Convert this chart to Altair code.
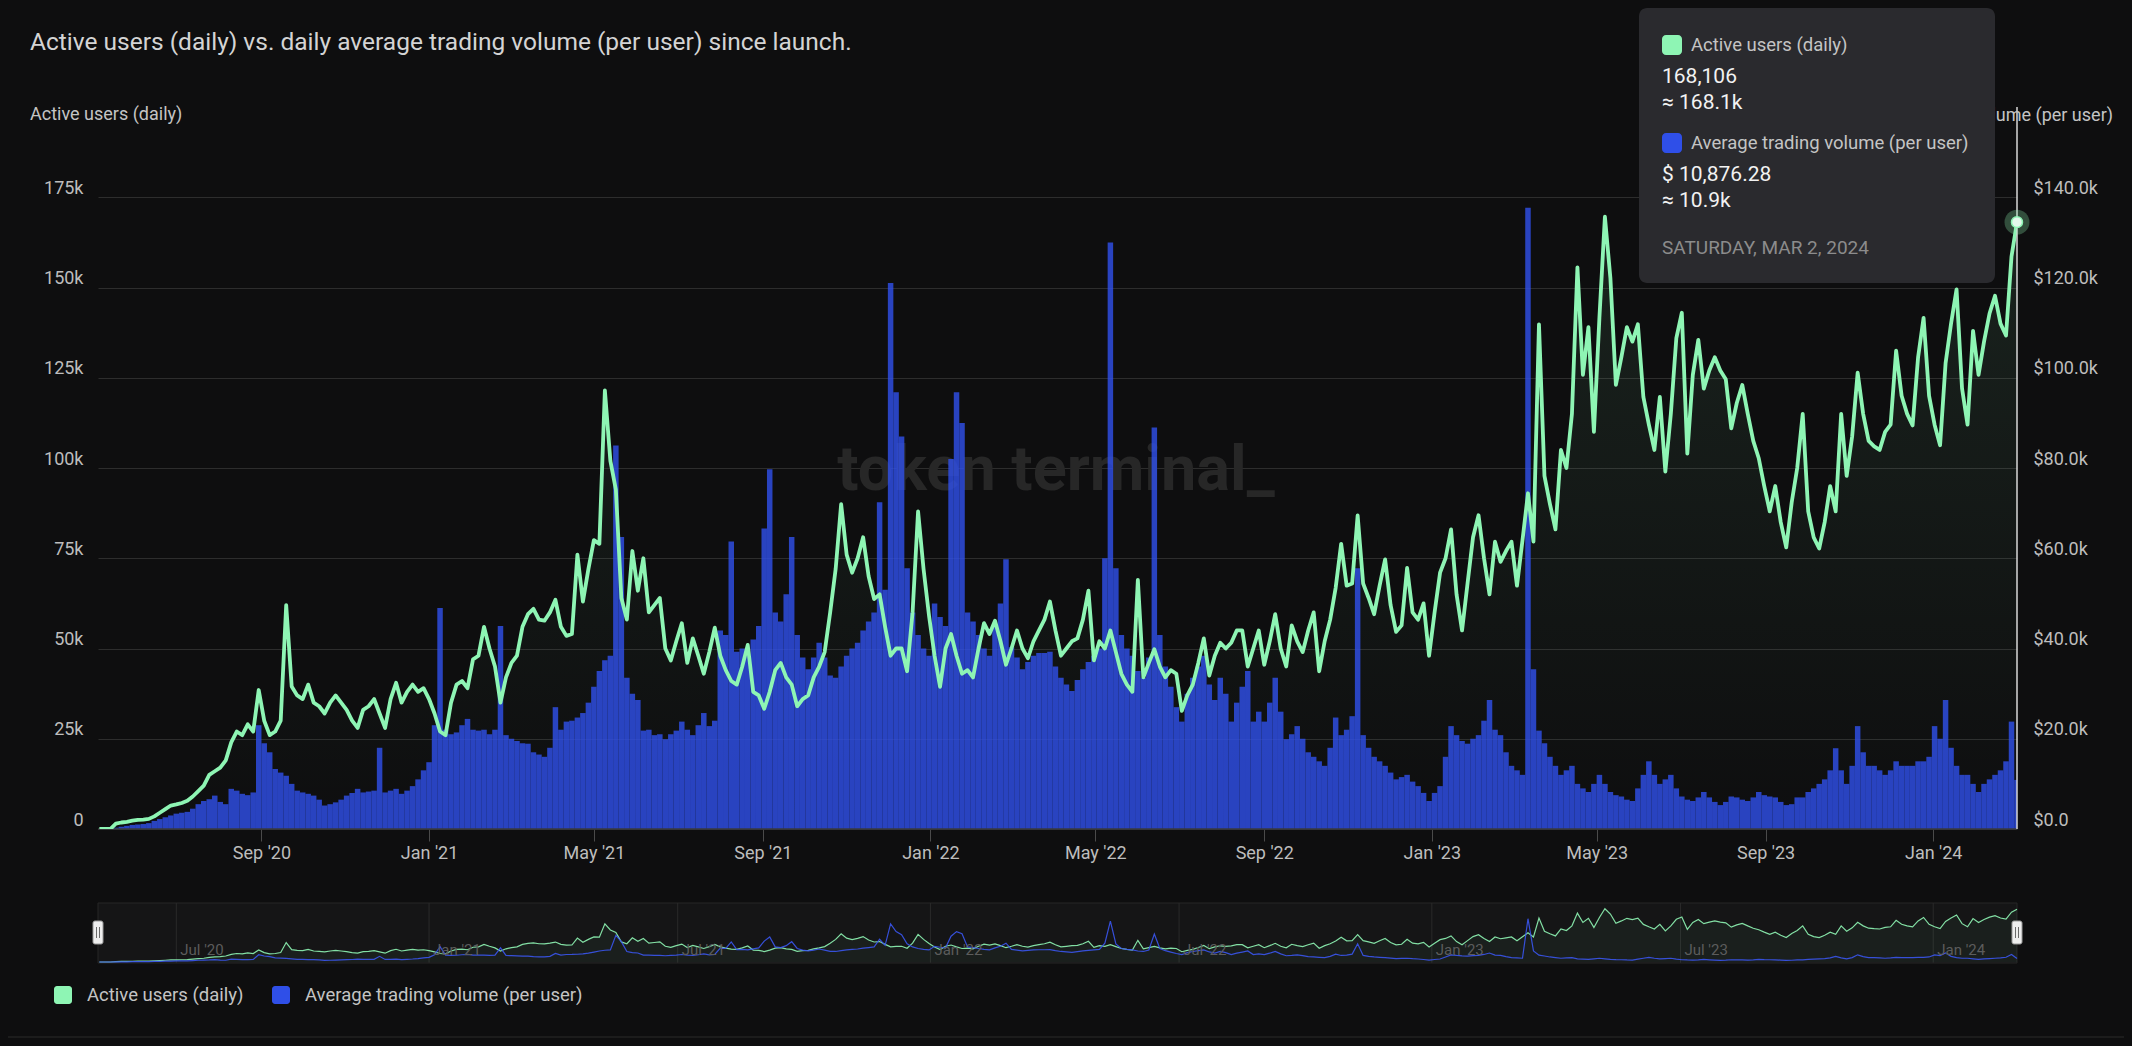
import altair as alt
import pandas as pd
import jinja2

# ---------------- data (4-day samples) ----------------
START_DATE = "2020-05-06"
STEP_DAYS = 4

# Active users (daily), thousands
users_k = [
    0, 0, 0, 1.5, 1.8, 2.0, 2.3, 2.5, 2.6, 2.8,
    3.5, 4.5, 5.5, 6.5, 6.8, 7.2, 7.8, 9, 10.5, 12,
    15, 16, 17, 19, 24, 27, 26, 29, 27, 38.5,
    30, 26, 27, 30, 62, 39.5, 37, 36, 40, 35,
    34, 32, 35, 37, 35, 33, 30, 28, 33, 34,
    36, 32, 28, 36, 40.5, 35, 38, 40, 38, 39,
    36, 32, 27, 26, 35, 40, 41, 39, 47, 48,
    56, 50, 45, 35, 42, 46, 48, 56, 59.5, 61,
    58, 57.7, 60, 63.5, 56, 53.5, 54, 76, 63, 72,
    80, 79, 121.5, 102, 94, 64, 58, 77, 66, 75,
    60, 62, 64, 50, 46.7, 52, 57, 46, 52.8, 48,
    43, 49, 55.8, 48, 44, 41, 40, 45, 51, 38,
    37, 33.3, 38, 44, 46, 42, 40, 34, 36, 37,
    42, 45, 49, 60, 72, 90, 76, 71, 75, 80.8,
    70, 63.7, 65, 56, 48, 50, 50, 43.7, 60, 88,
    72, 59, 48, 39.4, 50, 54, 48, 43, 44, 42,
    50, 57, 54, 57.7, 52, 45.5, 50, 55, 50, 47.3,
    52, 55, 58, 63, 55, 48, 50, 52, 52.8, 58,
    66, 46.7, 52, 50, 55, 49, 43, 40, 38, 69,
    42, 46, 49.8, 45, 42, 44, 43, 32.7, 37, 40,
    46, 52.8, 42.5, 48, 51.6, 50, 51.6, 55, 55, 45,
    50, 55, 45.5, 52, 59.5, 50, 45, 56.4, 52, 49,
    55, 60, 43.7, 52, 58, 66.8, 79, 67.4, 68, 86.9,
    68, 64, 59.5, 67.4, 74.7, 62, 54.6, 56.4, 72.3, 60,
    58, 62.5, 48, 60, 71, 75, 83, 65, 55, 68,
    80.8, 86.9, 75, 65, 79.6, 74, 77, 79.6, 67.4, 80,
    93, 79.6, 139.8, 97.8, 90, 83, 105, 100, 115, 155.6,
    125.8, 139, 110, 141.6, 169.6, 152.6, 123, 130.7, 139, 135,
    139.8, 119.7, 112, 105, 119.7, 99, 115, 136, 143, 104,
    125.8, 135.5, 122, 127, 130.7, 127, 124.6, 111, 118, 123,
    115, 107.5, 102.7, 95, 88, 95, 85, 78, 90.5, 100,
    115, 88, 80.8, 77.7, 85, 95, 88, 115, 97.8, 108.8,
    126.4, 115, 107.5, 106, 105, 110, 112, 132.5, 120, 115,
    111.8, 130.7, 141.6, 120, 112, 106.3, 129, 140, 149.5, 122,
    112, 138, 125.8, 135, 142.8, 147.7, 140, 136.7, 158.6, 168.106,
]

# Average trading volume (per user), thousands of USD
volume_k = [
    0, 0, 0, 0.3, 0.5, 0.7, 0.9, 1.0, 1.1, 1.3,
    1.8, 2.2, 2.6, 3.0, 3.4, 3.6, 3.8, 4.5, 5.5, 6.2,
    6.6, 7.4, 6.0, 5.5, 8.9, 8.5, 7.8, 7.5, 8.1, 23,
    19, 17, 13.3, 12.5, 11.8, 10, 8.5, 8.1, 7.8, 7.4,
    6.5, 5.2, 5.5, 5.9, 6.5, 7.4, 8, 8.9, 8.1, 8.3,
    8.5, 18, 8.1, 8.5, 8.9, 7.8, 8.5, 9.5, 11, 13,
    14.8, 23, 49, 22, 21, 21.4, 23, 24.4, 22, 21.8,
    22, 21, 22, 45, 20.8, 20, 19.5, 19, 18.9, 17,
    16.5, 16, 18, 27, 22, 23.8, 24, 24.7, 25.7, 28,
    31.5, 35, 37.4, 38.4, 85, 64.7, 33.5, 30, 28.6, 21.8,
    22, 20.8, 21, 19.9, 21, 21.8, 23.8, 22, 20.8, 23,
    25.7, 22.8, 24, 44, 43, 63.7, 39.3, 40, 38.4, 42,
    45, 66.6, 79.7, 48, 46, 52, 64.7, 43, 38, 35.4,
    38, 41.3, 38, 34, 33.5, 36, 38.4, 40, 41.3, 44,
    46, 48, 72.4, 53, 121, 96.8, 87, 57.8, 48, 43,
    40, 38.4, 50, 47, 45, 82, 96.8, 90, 48, 46,
    43, 40, 38.4, 45, 50, 59.8, 40.3, 38, 35.4, 37,
    38.4, 39, 39, 39.3, 36, 33.5, 32, 30.6, 33, 35.4,
    37, 38.4, 40, 60, 130, 57.8, 43, 40, 38.4, 35,
    33.5, 38, 89, 43, 36, 31.5, 27, 23.8, 30, 33.5,
    36, 38.4, 32, 28.6, 33.5, 30, 23.8, 28, 31.5, 35,
    23.8, 26, 23.8, 28, 33.5, 26, 19.9, 21, 22.8, 20,
    17, 16, 15, 14, 18, 24.7, 20.8, 22, 25, 57.8,
    20.8, 18, 16, 15, 14, 12.5, 11, 11.5, 12, 10.5,
    9.5, 8, 6.2, 8, 9.5, 16, 22.8, 20.8, 19.5, 18.9,
    20, 20.8, 24, 28.6, 22, 20.8, 17, 14, 13, 12,
    137.7, 35.4, 21.8, 19, 16, 14, 12, 13, 14, 10,
    9, 8.2, 10, 12, 10, 8.2, 7.5, 7.2, 6.5, 6.2,
    9, 12, 15, 12, 10, 11, 12, 9, 7.2, 6.5,
    6.2, 7, 8.2, 7, 6, 5.3, 6, 7.2, 7, 6.5,
    6.2, 7, 8.2, 7.5, 7.2, 7, 6, 5.3, 5.5, 7,
    7, 8.2, 9, 10, 11, 13, 17.9, 13, 10, 14,
    22.8, 17, 14, 14, 13, 12, 13, 15, 14, 14,
    14, 15, 15, 16, 22.8, 20, 28.6, 18, 14, 12,
    12, 10, 8.2, 10, 11, 12, 13, 15, 23.8, 10.87628,
]

x_tick_dates = ["2020-09-01", "2021-01-01", "2021-05-01", "2021-09-01", "2022-01-01",
                "2022-05-01", "2022-09-01", "2023-01-01", "2023-05-01", "2023-09-01",
                "2024-01-01"]
nav_tick_dates = ["2020-07-01", "2021-01-01", "2021-07-01", "2022-01-01",
                  "2022-07-01", "2023-01-01", "2023-07-01", "2024-01-01"]
nav_tick_labels = ["Jul '20", "Jan '21", "Jul '21", "Jan '22", "Jul '22",
                   "Jan '23", "Jul '23", "Jan '24"]
users_ticks = [0, 25000, 50000, 75000, 100000, 125000, 150000, 175000]
volume_ticks = [0, 20000, 40000, 60000, 80000, 100000, 120000, 140000]

SERIES_USERS = "Active users (daily)"
SERIES_VOL = "Average trading volume (per user)"
TITLE = "Active users (daily) vs. daily average trading volume (per user) since launch."

# ---------------- style ----------------
BG = "#0e0e0f"
GREEN = "#8ef5b4"
BLUE = "#2f4fe8"
LABEL = "#bdbdbd"
SOFT = "#c4c4c4"
FONT = "Roboto"
W, H = 1919, 722

dates = pd.date_range(START_DATE, periods=len(users_k), freq=f"{STEP_DAYS}D")
df = pd.DataFrame({
    "date": dates.strftime("%Y-%m-%d"),
    "start": (dates - pd.Timedelta(days=STEP_DAYS / 2)).strftime("%Y-%m-%d"),
    "end": (dates + pd.Timedelta(days=STEP_DAYS / 2)).strftime("%Y-%m-%d"),
    "users": [round(v * 1000, 2) for v in users_k],
    "volume": [round(v * 1000, 2) for v in volume_k],
})
last = df.iloc[[-1]].reset_index(drop=True)
last_date = pd.Timestamp(dates[-1])


def dt(s):
    t = pd.Timestamp(s)
    return alt.DateTime(year=t.year, month=t.month, date=t.day, utc=True)


x_scale = alt.Scale(type="utc", domain=[dt("2020-05-05"), dt(str(last_date.date()))])
x_axis = alt.Axis(values=[dt(s) for s in x_tick_dates],
                  labelExpr="utcFormat(datum.value, \"%b '%y\")",
                  labelColor=LABEL, labelFontSize=18, labelFont=FONT,
                  tickColor="#4a4a4a", tickSize=12, tickWidth=1,
                  domain=False, grid=False, labelPadding=3, title=None)


def X(field):
    return alt.X(f"{field}:T", scale=x_scale, axis=x_axis, title=None)


users_scale = alt.Scale(domain=[0, 200000], nice=False, zero=True)
vol_scale = alt.Scale(domain=[0, 160000], nice=False, zero=True)
nav_scale = alt.Scale(domain=[0, 175000], nice=False, range=[855, 800])

one = pd.DataFrame({"k": [0]})


def text(t, x, y, size=18.5, color=SOFT, align="left", weight="normal", font=FONT):
    return alt.Chart(one).mark_text(text=t, align=align, baseline="middle", fontSize=size,
                                    color=color, font=font, fontWeight=weight).encode(
        x=alt.value(x), y=alt.value(y))


def box(x, x2, y, y2, fill, radius=0, stroke=None, opacity=1):
    kw = dict(fill=fill, cornerRadius=radius, opacity=opacity)
    if stroke:
        kw.update(stroke=stroke, strokeWidth=1)
    return alt.Chart(one).mark_rect(**kw).encode(
        x=alt.value(x), x2=alt.value(x2), y=alt.value(y), y2=alt.value(y2))


base = alt.Chart(df)

watermark = text("token terminal_", 958, 364, size=63, color="#272727", align="center", weight="bold")

area = base.mark_area(clip=True, interpolate="linear", color=alt.Gradient(
    gradient="linear",
    stops=[alt.GradientStop(color="rgba(142,245,180,0.09)", offset=0),
           alt.GradientStop(color="rgba(142,245,180,0.0)", offset=1)],
    x1=0, x2=0, y1=0, y2=1)).encode(
    x=X("date"), y=alt.Y("users:Q", scale=users_scale, axis=None))

bars = base.mark_rect(clip=True, color=BLUE, opacity=0.82).encode(
    x=X("start"), x2="end:T",
    y=alt.Y("volume:Q", scale=vol_scale, axis=alt.Axis(
        orient="right", values=volume_ticks, grid=False, domain=False, ticks=False,
        labelExpr="datum.value == 0 ? '$0.0' : '$' + format(datum.value / 1000, '.1f') + 'k'",
        labelColor=LABEL, labelFontSize=18, labelFont=FONT, labelPadding=16,
        labelBaseline="bottom", title=None)),
    y2=alt.datum(0))

baseline = alt.Chart(one).mark_rule(color="#3a3a3f", strokeWidth=1.5).encode(
    x=alt.value(0), x2=alt.value(W), y=alt.value(H))

line = base.mark_line(color=GREEN, strokeWidth=3.8, strokeJoin="round", clip=True).encode(
    x=X("date"),
    y=alt.Y("users:Q", scale=users_scale, axis=alt.Axis(
        orient="left", values=users_ticks, grid=True, gridColor="#2d2d2d", gridWidth=1,
        domain=False, ticks=False,
        labelExpr="datum.value == 0 ? '0' : format(datum.value / 1000, 'd') + 'k'",
        labelColor=LABEL, labelFontSize=18, labelFont=FONT, labelPadding=15,
        labelBaseline="bottom", title=None)))

cross = alt.Chart(last).mark_rule(color="#d8d8d8", strokeWidth=1.5).encode(
    x=X("date"), y=alt.value(0), y2=alt.value(H))

halo = alt.Chart(last).mark_circle(size=620, color=GREEN, opacity=0.28).encode(
    x=X("date"), y=alt.Y("users:Q", scale=users_scale, axis=None))
dot = alt.Chart(last).mark_circle(size=120, color="#e4f9ec", opacity=1, stroke=GREEN,
                                  strokeWidth=1.5).encode(
    x=X("date"), y=alt.Y("users:Q", scale=users_scale, axis=None))

# ---------------- navigator ----------------
NAV_TOP, NAV_BOT = 796, 856
nav_bg = box(0, W, NAV_TOP, NAV_BOT, "#151516", stroke="#262626")
nav_df = pd.DataFrame({"date": nav_tick_dates, "lab": nav_tick_labels})
nav_grid = alt.Chart(nav_df).mark_rule(color="#2a2a2a", strokeWidth=1).encode(
    x=X("date"), y=alt.value(NAV_TOP), y2=alt.value(NAV_BOT))
nav_lab = alt.Chart(nav_df).mark_text(align="left", baseline="middle", dx=4, fontSize=15,
                                      color="#5c5c5c", font=FONT).encode(
    x=X("date"), y=alt.value(843), text="lab:N")
nav_area = base.mark_area(color=GREEN, opacity=0.05).encode(
    x=X("date"), y=alt.Y("users:Q", scale=nav_scale, axis=None))
nav_green = base.mark_line(color=GREEN, strokeWidth=1.2, opacity=0.9).encode(
    x=X("date"), y=alt.Y("users:Q", scale=nav_scale, axis=None))
nav_blue = base.mark_line(color="#3a55ee", strokeWidth=1.2, opacity=0.9).encode(
    x=X("date"), y=alt.Y("volume:Q", scale=nav_scale, axis=None))
handles = []
for hx in (0, W):
    handles.append(box(hx - 5, hx + 5, 814, 837, "#eeeeee", radius=2, stroke="#9a9a9a"))
    for off in (-1.5, 1.5):
        handles.append(alt.Chart(one).mark_rule(color="#6a6a6a", strokeWidth=1).encode(
            x=alt.value(hx + off), y=alt.value(820), y2=alt.value(831)))

# ---------------- texts, legend, tooltip ----------------
title = text(TITLE, -68, -64, size=24.5, color="#d4d4d4")
ytitle_l = text(SERIES_USERS, -68, 8, size=18)
ytitle_r = text(SERIES_VOL, 2015, 9, size=18, align="right")

legend = [
    box(-44, -26, 879, 897, GREEN, radius=3),
    text(SERIES_USERS, -11, 888),
    box(174, 192, 879, 897, BLUE, radius=3),
    text(SERIES_VOL, 207, 888),
]
bottom_line = alt.Chart(one).mark_rule(color="#2a2a2a", strokeWidth=1).encode(
    x=alt.value(-90), x2=alt.value(W + 107), y=alt.value(930))

u_last = users_k[-1] * 1000
v_last = volume_k[-1] * 1000
tip = [
    box(1541, 1897, -99, 176, "#2a2a2e", radius=8),
    box(1564, 1584, -72, -52, GREEN, radius=4),
    text(SERIES_USERS, 1593, -62),
    text(f"{u_last:,.0f}", 1564, -30, size=21, color="#f2f2f2"),
    text(f"\u2248 {u_last / 1000:.1f}k", 1564, -4, size=21, color="#f2f2f2"),
    box(1564, 1584, 26, 46, BLUE, radius=4),
    text(SERIES_VOL, 1593, 36),
    text(f"$ {v_last:,.2f}", 1564, 68, size=21, color="#f2f2f2"),
    text(f"\u2248 {v_last / 1000:.1f}k", 1564, 94, size=21, color="#f2f2f2"),
    text(last_date.strftime("%A, %b %-d, %Y").upper(), 1564, 141, size=19, color="#8c8c8c"),
]

chart = alt.layer(
    watermark, area, bars, baseline, line, cross, halo, dot,
    nav_bg, nav_grid, nav_area, nav_green, nav_blue, nav_lab, *handles,
    title, ytitle_l, ytitle_r, *legend, bottom_line, *tip,
).resolve_scale(y="independent").properties(
    width=W, height=H,
    padding={"left": 90, "top": 99, "right": 107, "bottom": 209},
    autosize=alt.AutoSizeParams(type="none"),
).configure(background=BG, font=FONT).configure_view(stroke=None)

PAGE = jinja2.Template("""<!DOCTYPE html>
<html>
<head>
  <style>
    body { background: """ + BG + """; margin: 8px; }
    #{{ output_div }}.vega-embed { width: 100%; display: flex; }
  </style>
  <script type="text/javascript" src="{{ base_url }}/vega@{{ vega_version }}"></script>
  <script type="text/javascript" src="{{ base_url }}/vega-lite@{{ vegalite_version }}"></script>
  <script type="text/javascript" src="{{ base_url }}/vega-embed@{{ vegaembed_version }}"></script>
</head>
<body>
  <div id="{{ output_div }}"></div>
  <script>
    (function(vegaEmbed) {
      var spec = {{ spec }};
      var embedOpt = {{ embed_options }};
      vegaEmbed("#{{ output_div }}", spec, embedOpt).catch(console.error);
    })(vegaEmbed);
  </script>
</body>
</html>""")

try:
    chart.save("out.html", embed_options={"renderer": "svg", "actions": False}, template=PAGE)
except Exception:
    chart.save("out.html", embed_options={"renderer": "svg", "actions": False})
